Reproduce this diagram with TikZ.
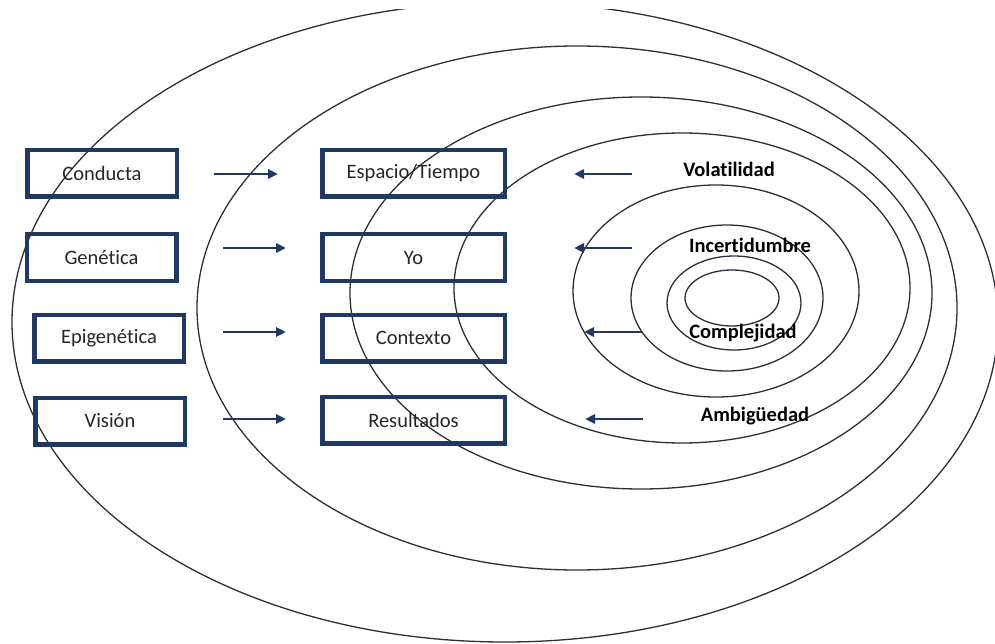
\documentclass[tikz,border=0pt]{standalone}
\usepackage{fontspec}
\setmainfont{Carlito}[Ligatures=NoCommon]
\usetikzlibrary{arrows.meta}
\definecolor{navy}{HTML}{1F3864}
\definecolor{ring}{HTML}{2A3039}
\definecolor{txt}{HTML}{262626}
\begin{document}
\begin{tikzpicture}[x=1pt,y=-1pt,
  ringline/.style={draw=ring,line width=1.3pt},
  box/.style={draw=navy,line width=4.5pt,minimum width=149.5pt,minimum height=46.5pt,inner sep=0pt,font=\fontsize{20.5}{24}\selectfont,text=txt},
  midbox/.style={box,minimum width=182.5pt},
  lbl/.style={font=\fontsize{20.5}{24}\selectfont\bfseries,text=black,inner sep=0pt},
  arr/.style={draw=navy,line width=2.6pt,-{Triangle[length=10pt,width=9pt]}}]
\useasboundingbox (0,0) rectangle (995,644);
\begin{scope}
\clip (0,10) rectangle (995,644);
\draw[ringline] (505,322) ellipse [x radius=493, y radius=320];
\draw[ringline] (577,308) ellipse [x radius=380, y radius=262];
\draw[ringline] (641,293) ellipse [x radius=291, y radius=196];
\draw[ringline] (682,288) ellipse [x radius=228, y radius=155];
\draw[ringline] (716,291) ellipse [x radius=143, y radius=106];
\draw[ringline] (727,298) ellipse [x radius=96, y radius=73];
\draw[ringline] (734,303) ellipse [x radius=67, y radius=47];
\draw[ringline] (732,298) ellipse [x radius=47, y radius=28];
\end{scope}
% left boxes
\node[box] (conducta) at (102,173.5) {Conducta};
\node[box] (genetica) at (101.5,257.5) {Genética};
\node[box] (epigen) at (109,338) {Epigenética};
\node[box] (vision) at (110,421) {Visión};
% middle boxes
\node[midbox] (espacio) at (413.5,173.5) {Espacio/Tiempo};
\node[midbox] (yo) at (413.5,257.5) {Yo};
\node[midbox] (contexto) at (413.5,338) {Contexto};
\node[midbox] (resultados) at (413.5,420) {Resultados};
% labels
\node[lbl] (vol) at (729,169) {Volatilidad};
\node[lbl] (inc) at (750,245) {Incertidumbre};
\node[lbl] (comp) at (743,333) {Complejidad};
\node[lbl] (amb) at (755,416) {Ambigüedad};
% arrow end points
\coordinate (l1s) at (214,174); \coordinate (l1e) at (278,174);
\coordinate (l2s) at (223,248); \coordinate (l2e) at (286,248);
\coordinate (l3s) at (223,332); \coordinate (l3e) at (286,332);
\coordinate (l4s) at (223,419); \coordinate (l4e) at (286,419);
\coordinate (r1s) at (632,174); \coordinate (r1e) at (574,174);
\coordinate (r2s) at (632,248); \coordinate (r2e) at (574,248);
\coordinate (r3s) at (642,332); \coordinate (r3e) at (584,332);
\coordinate (r4s) at (643,419); \coordinate (r4e) at (585,419);
\foreach \a in {l1,l2,l3,l4,r1,r2,r3,r4}{\draw[arr] (\a s) -- (\a e);}
\end{tikzpicture}
\end{document}
